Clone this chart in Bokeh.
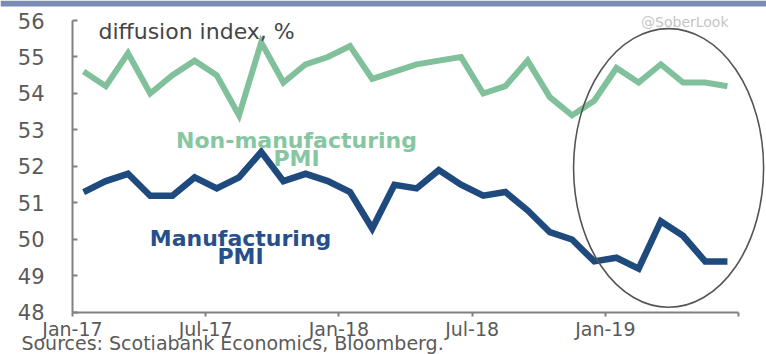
from bokeh.plotting import figure
from bokeh.models import Range1d, FixedTicker, Label, BoxAnnotation
from bokeh.embed import file_html
from bokeh.resources import INLINE

# ---------------- data ----------------
months = ["2017-01", "2017-02", "2017-03", "2017-04", "2017-05", "2017-06",
          "2017-07", "2017-08", "2017-09", "2017-10", "2017-11", "2017-12",
          "2018-01", "2018-02", "2018-03", "2018-04", "2018-05", "2018-06",
          "2018-07", "2018-08", "2018-09", "2018-10", "2018-11", "2018-12",
          "2019-01", "2019-02", "2019-03", "2019-04", "2019-05", "2019-06"]
non_manufacturing = [54.6, 54.2, 55.1, 54.0, 54.5, 54.9, 54.5, 53.4, 55.4, 54.3,
                     54.8, 55.0, 55.3, 54.4, 54.6, 54.8, 54.9, 55.0, 54.0, 54.2,
                     54.9, 53.9, 53.4, 53.8, 54.7, 54.3, 54.8, 54.3, 54.3, 54.2]
manufacturing = [51.3, 51.6, 51.8, 51.2, 51.2, 51.7, 51.4, 51.7, 52.4, 51.6,
                 51.8, 51.6, 51.3, 50.3, 51.5, 51.4, 51.9, 51.5, 51.2, 51.3,
                 50.8, 50.2, 50.0, 49.4, 49.5, 49.2, 50.5, 50.1, 49.4, 49.4]
x_tick_months = [0, 6, 12, 18, 24, 30]
x_tick_labels = ["Jan-17", "Jul-17", "Jan-18", "Jul-18", "Jan-19", ""]
y_ticks = [48, 49, 50, 51, 52, 53, 54, 55, 56]

# month index (mid-month) from Jan-17
def month_pos(m):
    y, mo = m.split("-")
    return (int(y) - 2017) * 12 + int(mo) - 1 + 0.5

xs = [month_pos(m) for m in months]

GREEN = "#80c09b"
GREEN_TXT = "#86c6a1"
BLUE = "#1f4a7e"
BLUE_TXT = "#27508a"
AXIS = "#808080"
TICKTXT = "#5a5a5a"
FONT = "DejaVu Sans"

p = figure(width=766, height=354, x_range=Range1d(-3.243, 31.26), y_range=Range1d(46.849, 56.548),
           output_backend="svg", toolbar_location=None, title=None,
           min_border=0, min_border_left=0, min_border_right=0, min_border_top=0, min_border_bottom=0)
p.outline_line_color = None
p.xgrid.visible = False
p.ygrid.visible = False
p.background_fill_color = "white"
p.border_fill_color = "white"

# top band
p.add_layout(BoxAnnotation(bottom=56.384, fill_color="#7a8cb4", fill_alpha=1.0, line_color=None))

# axes
xa = p.xaxis[0]
xa.fixed_location = 48
xa.ticker = FixedTicker(ticks=x_tick_months)
xa.major_label_overrides = {t: l for t, l in zip(x_tick_months, x_tick_labels)}
xa.bounds = (0, 30)
xa.axis_line_color = AXIS
xa.axis_line_width = 2
xa.major_tick_line_color = AXIS
xa.major_tick_line_width = 2
xa.major_tick_in = 0
xa.major_tick_out = 4
xa.minor_tick_line_color = None
xa.major_label_standoff = 2
xa.major_label_text_font = FONT
xa.major_label_text_font_size = "19px"
xa.major_label_text_color = TICKTXT

ya = p.yaxis[0]
ya.fixed_location = 0
ya.ticker = FixedTicker(ticks=y_ticks)
ya.bounds = (48, 56)
ya.axis_line_color = AXIS
ya.axis_line_width = 2
ya.major_tick_line_color = AXIS
ya.major_tick_line_width = 2
ya.major_tick_in = 5
ya.major_tick_out = 0
ya.minor_tick_line_color = None
ya.major_label_standoff = 28
ya.major_label_text_font = FONT
ya.major_label_text_font_size = "21px"
ya.major_label_text_color = TICKTXT

# lines
p.line(xs, non_manufacturing, line_color=GREEN, line_width=6, line_join="miter")
p.line(xs, manufacturing, line_color=BLUE, line_width=6.5, line_join="miter")

# ellipse highlight
p.ellipse(x=26.85, y=51.96, width=8.56, height=7.64, fill_color=None,
          line_color="#555555", line_width=1.6)

# texts
p.add_layout(Label(x=1.17, y=55.7, text="diffusion index, %", text_font=FONT,
                   text_font_size="22px", text_color="#454545", text_baseline="middle"))
p.add_layout(Label(x=10.09, y=52.71, text="Non-manufacturing", text_font=FONT,
                   text_font_size="22px", text_font_style="bold", text_color=GREEN_TXT,
                   text_align="center", text_baseline="middle"))
p.add_layout(Label(x=10.09, y=52.22, text="PMI", text_font=FONT,
                   text_font_size="22px", text_font_style="bold", text_color=GREEN_TXT,
                   text_align="center", text_baseline="middle"))
p.add_layout(Label(x=7.57, y=50.03, text="Manufacturing", text_font=FONT,
                   text_font_size="22px", text_font_style="bold", text_color=BLUE_TXT,
                   text_align="center", text_baseline="middle"))
p.add_layout(Label(x=7.57, y=49.53, text="PMI", text_font=FONT,
                   text_font_size="22px", text_font_style="bold", text_color=BLUE_TXT,
                   text_align="center", text_baseline="middle"))
p.add_layout(Label(x=29.55, y=55.95, text="@SoberLook", text_font=FONT,
                   text_font_size="14px", text_color="#c4c4c4",
                   text_align="right", text_baseline="middle"))
p.add_layout(Label(x=-2.3, y=47.165,
                   text="Sources: Scotiabank Economics, Bloomberg.", text_font=FONT,
                   text_font_size="19px", text_color=TICKTXT, text_baseline="alphabetic"))

open("out.html", "w").write(file_html(p, INLINE))
